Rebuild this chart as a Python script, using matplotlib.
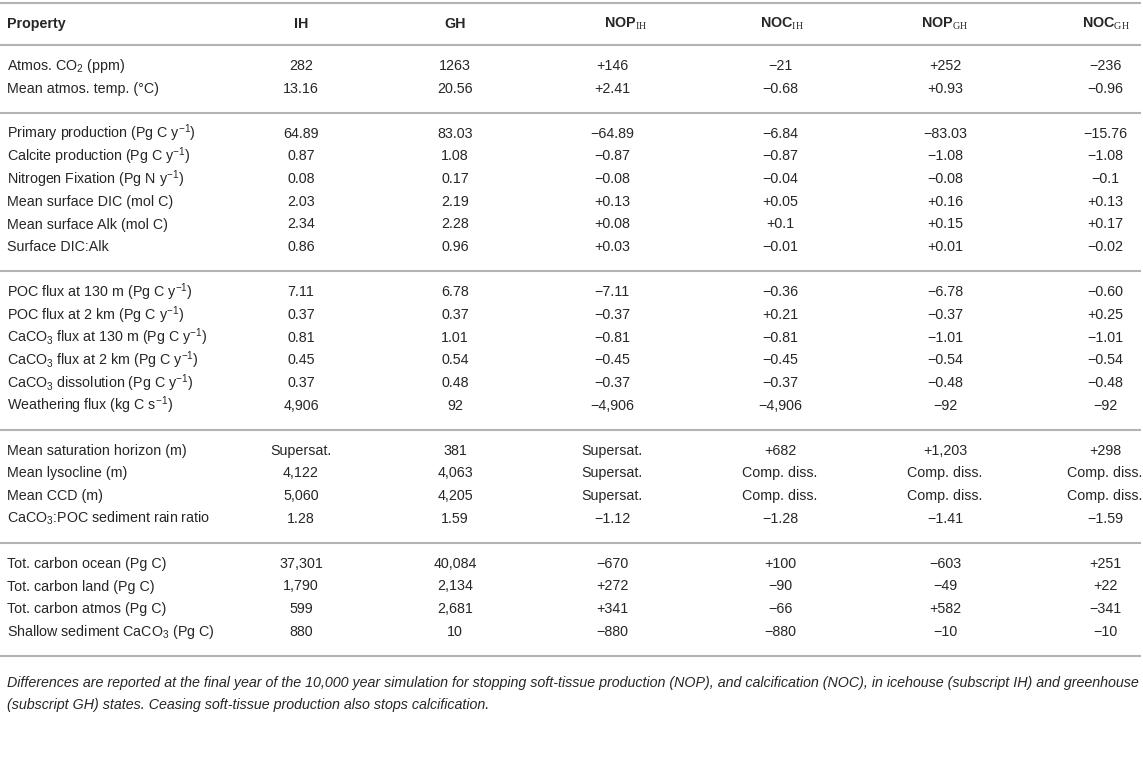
import matplotlib
matplotlib.use("Agg")
import matplotlib.pyplot as plt

plt.rcParams['font.family'] = ['Liberation Sans', 'DejaVu Sans']
plt.rcParams['mathtext.fontset'] = 'custom'
plt.rcParams['mathtext.rm'] = 'Liberation Serif'
plt.rcParams['mathtext.sf'] = 'Liberation Sans'
plt.rcParams['mathtext.it'] = 'Liberation Sans:italic'
plt.rcParams['mathtext.bf'] = 'Liberation Sans:bold'

SUP = r'$^{\mathsf{-1}}$'

headers = ["Property", "IH", "GH", r"NOP$_{\mathrm{IH}}$", r"NOC$_{\mathrm{IH}}$",
           r"NOP$_{\mathrm{GH}}$", r"NOC$_{\mathrm{GH}}$"]

groups = [
    [r"Atmos. CO$_\mathsf{2}$ (ppm)", "Mean atmos. temp. (°C)"],
    ["Primary production (Pg C y" + SUP + ")", "Calcite production (Pg C y" + SUP + ")",
     "Nitrogen Fixation (Pg N y" + SUP + ")", "Mean surface DIC (mol C)",
     "Mean surface Alk (mol C)", "Surface DIC:Alk"],
    ["POC flux at 130 m (Pg C y" + SUP + ")", "POC flux at 2 km (Pg C y" + SUP + ")",
     r"CaCO$_\mathsf{3}$ flux at 130 m (Pg C y" + SUP + ")",
     r"CaCO$_\mathsf{3}$ flux at 2 km (Pg C y" + SUP + ")",
     r"CaCO$_\mathsf{3}$ dissolution (Pg C y" + SUP + ")",
     "Weathering flux (kg C s" + SUP + ")"],
    ["Mean saturation horizon (m)", "Mean lysocline (m)", "Mean CCD (m)",
     r"CaCO$_\mathsf{3}$:POC sediment rain ratio"],
    ["Tot. carbon ocean (Pg C)", "Tot. carbon land (Pg C)", "Tot. carbon atmos (Pg C)",
     r"Shallow sediment CaCO$_\mathsf{3}$ (Pg C)"],
]

IH = ["282", "13.16",
      "64.89", "0.87", "0.08", "2.03", "2.34", "0.86",
      "7.11", "0.37", "0.81", "0.45", "0.37", "4,906",
      "Supersat.", "4,122", "5,060", "1.28",
      "37,301", "1,790", "599", "880"]
GH = ["1263", "20.56",
      "83.03", "1.08", "0.17", "2.19", "2.28", "0.96",
      "6.78", "0.37", "1.01", "0.54", "0.48", "92",
      "381", "4,063", "4,205", "1.59",
      "40,084", "2,134", "2,681", "10"]
NOP_IH = ["+146", "+2.41",
          "−64.89", "−0.87", "−0.08", "+0.13", "+0.08", "+0.03",
          "−7.11", "−0.37", "−0.81", "−0.45", "−0.37", "−4,906",
          "Supersat.", "Supersat.", "Supersat.", "−1.12",
          "−670", "+272", "+341", "−880"]
NOC_IH = ["−21", "−0.68",
          "−6.84", "−0.87", "−0.04", "+0.05", "+0.1", "−0.01",
          "−0.36", "+0.21", "−0.81", "−0.45", "−0.37", "−4,906",
          "+682", "Comp. diss.", "Comp. diss.", "−1.28",
          "+100", "−90", "−66", "−880"]
NOP_GH = ["+252", "+0.93",
          "−83.03", "−1.08", "−0.08", "+0.16", "+0.15", "+0.01",
          "−6.78", "−0.37", "−1.01", "−0.54", "−0.48", "−92",
          "+1,203", "Comp. diss.", "Comp. diss.", "−1.41",
          "−603", "−49", "+582", "−10"]
NOC_GH = ["−236", "−0.96",
          "−15.76", "−1.08", "−0.1", "+0.13", "+0.17", "−0.02",
          "−0.60", "+0.25", "−1.01", "−0.54", "−0.48", "−92",
          "+298", "Comp. diss.", "Comp. diss.", "−1.59",
          "+251", "+22", "−341", "−10"]

footnote = ["Differences are reported at the final year of the 10,000 year simulation for stopping "
            "soft-tissue production (NOP), and calcification (NOC), in icehouse (subscript IH) and greenhouse",
            "(subscript GH) states. Ceasing soft-tissue production also stops calcification."]

columns = [IH, GH, NOP_IH, NOC_IH, NOP_GH, NOC_GH]
col_x = [301, 455, 612, 780, 945, 1105]
head_x = [301, 455, 626, 782, 945, 1106]
label_x = 7

TXT = '#262626'
RULE = '#b3b3b3'
FS = 10.3

fig = plt.figure(figsize=(11.43, 7.62), dpi=100)
ax = fig.add_axes([0, 0, 1, 1])
ax.set_xlim(0, 1143)
ax.set_ylim(762, 0)
ax.axis('off')

def rule(y):
    ax.plot([0, 1141], [y, y], color=RULE, lw=1.5, solid_capstyle='butt')

rule(3)
header_y = 24
ax.text(label_x, header_y, headers[0], ha='left', va='center', fontsize=FS,
        fontweight='bold', color=TXT)
for x, h in zip(head_x, headers[1:]):
    ax.text(x, header_y, h, ha='center', va='center', fontsize=FS,
            fontweight='bold', color=TXT)
rule(45)

y0 = 66
pitch = 22.7
gap = 45.0
idx = 0
y = y0
for gi, grp in enumerate(groups):
    if gi > 0:
        y += gap - pitch
        rule(y - gap / 2 + 1.5)
    for lab in grp:
        ax.text(label_x, y, lab, ha='left', va='center', fontsize=FS, color=TXT)
        for x, col in zip(col_x, columns):
            ax.text(x, y, col[idx], ha='center', va='center', fontsize=FS, color=TXT)
        idx += 1
        y += pitch
last_y = y - pitch
rule(last_y + 24)

fy = last_y + 51
for i, line in enumerate(footnote):
    ax.text(label_x, fy + i * 22, line, ha='left', va='center', fontsize=FS,
            style='italic', color=TXT)

fig.savefig('out.png', dpi=100)
